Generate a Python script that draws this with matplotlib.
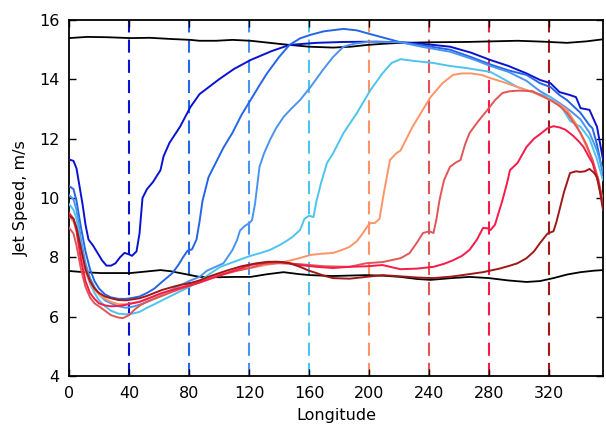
import matplotlib
matplotlib.use("Agg")
import matplotlib.pyplot as plt

# jet speed vs longitude, one curve per jet-entry longitude (dashed lines)
entry_lons = [40, 80, 120, 160, 200, 240, 280, 320]
colors = ['#0a12d2', '#2466e6', '#4a94f0', '#4cc4ee',
          '#ff9468', '#e05656', '#f81a48', '#a01818']

jet_40 = [(0, 11.3), (3, 11.25), (5, 11.0), (7, 10.4), (9, 9.8), (11, 9.1), (13, 8.6),
          (16, 8.4), (19, 8.15), (22, 7.9), (25, 7.72), (28, 7.72), (31, 7.8), (34, 8.0),
          (37, 8.15), (40, 8.1), (42, 8.05), (45, 8.2), (47, 8.8), (49, 10.0), (52, 10.3),
          (56, 10.54), (61, 10.94), (63, 11.4), (67, 11.86), (74, 12.4), (81, 13.07),
          (87, 13.5), (100, 14.0), (110, 14.35), (121, 14.65), (135, 14.95), (147, 15.16),
          (165, 15.23), (183, 15.26), (205, 15.27), (221, 15.25), (235, 15.2), (254, 15.1),
          (268, 14.9), (281, 14.65), (293, 14.45), (305, 14.2), (314, 13.98), (321, 13.87),
          (327, 13.57), (334, 13.47), (338, 13.4), (341, 13.03), (347, 12.97), (352, 12.4),
          (356, 11.3)]
jet_80 = [(0, 10.4), (3, 10.3), (5, 9.9), (8, 9.0), (11, 8.2), (14, 7.6), (17, 7.2),
          (20, 6.95), (24, 6.75), (28, 6.65), (33, 6.6), (38, 6.6), (42, 6.63), (47, 6.68),
          (52, 6.8), (57, 6.95), (61, 7.13), (65, 7.3), (69, 7.47), (73, 7.75), (76, 8.0),
          (79, 8.22), (82, 8.27), (85, 8.6), (87, 9.2), (89, 9.9), (93, 10.7), (98, 11.2),
          (103, 11.7), (109, 12.2), (115, 12.8), (121, 13.3), (127, 13.8), (132, 14.2),
          (140, 14.75), (147, 15.16), (154, 15.38), (161, 15.5), (170, 15.62), (183, 15.7),
          (192, 15.65), (199, 15.55), (210, 15.4), (221, 15.25), (235, 15.15), (254, 15.0),
          (268, 14.75), (281, 14.5), (293, 14.3), (305, 14.15), (314, 13.87), (321, 13.74),
          (327, 13.47), (332, 13.3), (341, 12.87), (347, 12.45), (349, 12.35), (352, 11.8),
          (356, 10.8)]
jet_120 = [(0, 10.1), (3, 9.95), (5, 9.6), (8, 8.6), (11, 7.8), (14, 7.3), (17, 7.0),
           (20, 6.75), (24, 6.55), (28, 6.45), (33, 6.35), (38, 6.3), (42, 6.33), (47, 6.4),
           (52, 6.5), (57, 6.62), (62, 6.75), (68, 6.9), (74, 7.05), (80, 7.2), (87, 7.34),
           (92, 7.55), (96, 7.64), (103, 7.8), (109, 8.25), (112, 8.58), (114, 8.9),
           (117, 9.05), (120, 9.15), (122, 9.25), (124, 9.8), (127, 11.05), (130, 11.5),
           (134, 11.96), (138, 12.35), (143, 12.73), (148, 13.0), (154, 13.3), (161, 13.74),
           (169, 14.3), (176, 14.75), (183, 15.1), (190, 15.2), (199, 15.26), (221, 15.25),
           (235, 15.1), (254, 14.93), (268, 14.7), (281, 14.45), (293, 14.25), (305, 13.95),
           (314, 13.6), (321, 13.4), (327, 13.2), (334, 12.95), (341, 12.65), (347, 12.2),
           (352, 11.6), (356, 10.9)]
jet_160 = [(0, 9.8), (3, 9.6), (5, 9.3), (8, 8.4), (11, 7.6), (14, 7.1), (17, 6.8),
           (20, 6.55), (24, 6.35), (28, 6.2), (33, 6.1), (38, 6.08), (42, 6.1), (47, 6.16),
           (52, 6.3), (57, 6.42), (62, 6.55), (68, 6.7), (74, 6.85), (80, 7.0), (87, 7.2),
           (94, 7.45), (101, 7.68), (110, 7.85), (121, 8.05), (128, 8.15), (134, 8.25),
           (140, 8.4), (145, 8.55), (149, 8.69), (154, 8.92), (157, 9.3), (160, 9.4),
           (163, 9.36), (165, 9.9), (168, 10.5), (172, 11.18), (176, 11.5), (183, 12.19),
           (192, 12.87), (201, 13.64), (209, 14.2), (215, 14.55), (221, 14.68), (230, 14.62),
           (243, 14.55), (254, 14.45), (265, 14.38), (281, 14.25), (290, 14.0), (299, 13.74),
           (310, 13.55), (321, 13.4), (328, 13.1), (334, 12.6), (341, 12.4), (347, 12.0),
           (352, 11.3), (356, 10.6)]
jet_200 = [(0, 9.4), (3, 9.2), (5, 8.9), (8, 8.1), (11, 7.5), (14, 7.15), (17, 6.9),
           (20, 6.75), (24, 6.6), (28, 6.5), (33, 6.42), (38, 6.42), (42, 6.45), (47, 6.5),
           (52, 6.58), (57, 6.68), (62, 6.78), (68, 6.88), (74, 6.98), (80, 7.08), (87, 7.2),
           (94, 7.33), (101, 7.43), (110, 7.55), (121, 7.64), (132, 7.75), (143, 7.84),
           (152, 7.95), (161, 8.08), (168, 8.12), (176, 8.15), (182, 8.25), (187, 8.35),
           (192, 8.55), (196, 8.82), (199, 9.05), (201, 9.15), (204, 9.16), (207, 9.3),
           (210, 10.2), (214, 11.28), (218, 11.5), (221, 11.6), (225, 12.0), (229, 12.4),
           (235, 12.9), (241, 13.4), (249, 13.87), (256, 14.15), (262, 14.2), (268, 14.2),
           (275, 14.15), (281, 14.04), (290, 13.9), (299, 13.74), (310, 13.55), (321, 13.3),
           (327, 13.15), (332, 12.97), (338, 12.5), (343, 11.96), (349, 11.28), (353, 10.6),
           (356, 9.9)]
jet_240 = [(0, 9.0), (3, 8.8), (5, 8.4), (8, 7.6), (11, 7.0), (14, 6.65), (17, 6.45),
           (20, 6.35), (24, 6.2), (28, 6.05), (33, 5.97), (36, 5.95), (40, 6.05), (44, 6.25),
           (48, 6.4), (52, 6.5), (57, 6.6), (62, 6.7), (68, 6.82), (74, 6.93), (80, 7.03),
           (87, 7.15), (94, 7.28), (101, 7.4), (110, 7.52), (121, 7.65), (130, 7.78),
           (140, 7.8), (154, 7.77), (170, 7.7), (187, 7.68), (198, 7.8), (209, 7.84),
           (221, 7.97), (227, 8.14), (232, 8.5), (236, 8.82), (239, 8.86), (241, 8.86),
           (243, 8.82), (245, 9.3), (247, 9.93), (250, 10.6), (254, 11.05), (258, 11.2),
           (261, 11.28), (264, 11.8), (267, 12.19), (273, 12.6), (279, 12.97), (284, 13.3),
           (289, 13.54), (294, 13.6), (300, 13.62), (309, 13.6), (315, 13.45), (321, 13.3),
           (327, 13.1), (332, 12.87), (337, 12.5), (341, 12.19), (345, 11.8), (349, 11.28),
           (353, 10.6), (356, 9.7)]
jet_280 = [(0, 9.5), (3, 9.3), (5, 8.9), (8, 7.9), (11, 7.2), (14, 6.8), (17, 6.6),
           (20, 6.45), (24, 6.38), (28, 6.35), (33, 6.36), (38, 6.4), (42, 6.45), (47, 6.5),
           (52, 6.6), (57, 6.7), (62, 6.8), (69, 6.9), (75, 6.98), (80, 7.05), (87, 7.15),
           (92, 7.24), (100, 7.38), (110, 7.55), (121, 7.74), (130, 7.82), (137, 7.85),
           (143, 7.84), (154, 7.74), (165, 7.68), (176, 7.64), (187, 7.68), (199, 7.7),
           (209, 7.74), (221, 7.6), (232, 7.62), (243, 7.68), (250, 7.78), (256, 7.9),
           (262, 8.05), (267, 8.25), (272, 8.6), (276, 8.99), (279, 8.98), (281, 8.92),
           (284, 9.1), (287, 9.6), (289, 9.93), (292, 10.5), (294, 10.94), (299, 11.18),
           (305, 11.72), (310, 12.0), (314, 12.15), (319, 12.35), (323, 12.42), (327, 12.38),
           (331, 12.3), (336, 12.1), (340, 11.9), (343, 11.72), (347, 11.35), (349, 11.18),
           (353, 10.5), (356, 9.8)]
jet_320 = [(0, 9.4), (3, 9.3), (5, 9.0), (8, 8.3), (11, 7.6), (14, 7.2), (17, 6.95),
           (20, 6.8), (24, 6.68), (28, 6.62), (33, 6.56), (38, 6.55), (42, 6.58), (47, 6.62),
           (52, 6.7), (57, 6.8), (62, 6.9), (69, 7.0), (75, 7.08), (80, 7.12), (87, 7.22),
           (95, 7.38), (105, 7.55), (115, 7.7), (125, 7.8), (133, 7.85), (140, 7.85),
           (147, 7.8), (154, 7.68), (160, 7.55), (165, 7.47), (170, 7.38), (176, 7.3),
           (187, 7.28), (198, 7.34), (209, 7.4), (221, 7.36), (232, 7.32), (243, 7.3),
           (255, 7.35), (265, 7.42), (276, 7.5), (287, 7.62), (294, 7.72), (299, 7.8),
           (305, 7.97), (310, 8.2), (314, 8.48), (319, 8.8), (323, 8.88), (325, 9.2),
           (327, 9.6), (330, 10.2), (334, 10.84), (338, 10.9), (341, 10.88), (344, 10.9),
           (347, 10.98), (350, 10.85), (352, 10.7), (354, 10.2), (356, 9.6)]
jets = [jet_40, jet_80, jet_120, jet_160, jet_200, jet_240, jet_280, jet_320]

upper_black = [(0, 15.39), (12, 15.43), (25, 15.42), (41, 15.39), (54, 15.4), (68, 15.36),
               (81, 15.33), (87, 15.3), (98, 15.3), (109, 15.33), (121, 15.3), (132, 15.24),
               (143, 15.18), (160, 15.1), (176, 15.07), (188, 15.1), (199, 15.16),
               (210, 15.2), (221, 15.23), (243, 15.25), (265, 15.26), (282, 15.28),
               (299, 15.3), (316, 15.27), (332, 15.23), (345, 15.28), (356, 15.35)]
lower_black = [(0, 7.54), (10, 7.5), (21, 7.47), (30, 7.47), (41, 7.47), (51, 7.52),
               (61, 7.57), (68, 7.53), (74, 7.47), (81, 7.4), (87, 7.34), (100, 7.33),
               (110, 7.34), (121, 7.34), (132, 7.43), (143, 7.5), (154, 7.43), (161, 7.4),
               (176, 7.37), (198, 7.4), (210, 7.38), (221, 7.34), (232, 7.27), (241, 7.24),
               (255, 7.3), (267, 7.34), (280, 7.3), (293, 7.22), (305, 7.17), (314, 7.2),
               (323, 7.3), (332, 7.42), (341, 7.5), (350, 7.55), (356, 7.57)]

fig = plt.figure(figsize=(6.06, 4.25), dpi=100)
ax = fig.add_axes([69 / 606, 1 - 376 / 425, 534 / 606, 356 / 425])

for lon, c in zip(entry_lons, colors):
    ax.axvline(lon, color=c, ls=(0, (6.3, 3.4)), lw=1.5, zorder=1)

for line in (upper_black, lower_black):
    xs, ys = zip(*line)
    ax.plot(xs, ys, color='black', lw=1.3, zorder=2)

for jet, c in zip(jets, colors):
    xs, ys = zip(*jet)
    ax.plot(xs, ys, color=c, lw=1.4, zorder=3)

ax.set_xlim(0, 356)
ax.set_ylim(4, 16)
ax.set_xticks(range(0, 321, 40))
ax.set_yticks(range(4, 17, 2))
ax.tick_params(direction='in', top=True, right=True, length=5, width=1,
               labelsize=11.5, pad=7)
for sp in ax.spines.values():
    sp.set_linewidth(1.3)
ax.set_xlabel('Longitude', fontsize=11.5, labelpad=5)
ax.set_ylabel('Jet Speed, m/s', fontsize=11.5, labelpad=7)

fig.savefig('out.png', dpi=100)
